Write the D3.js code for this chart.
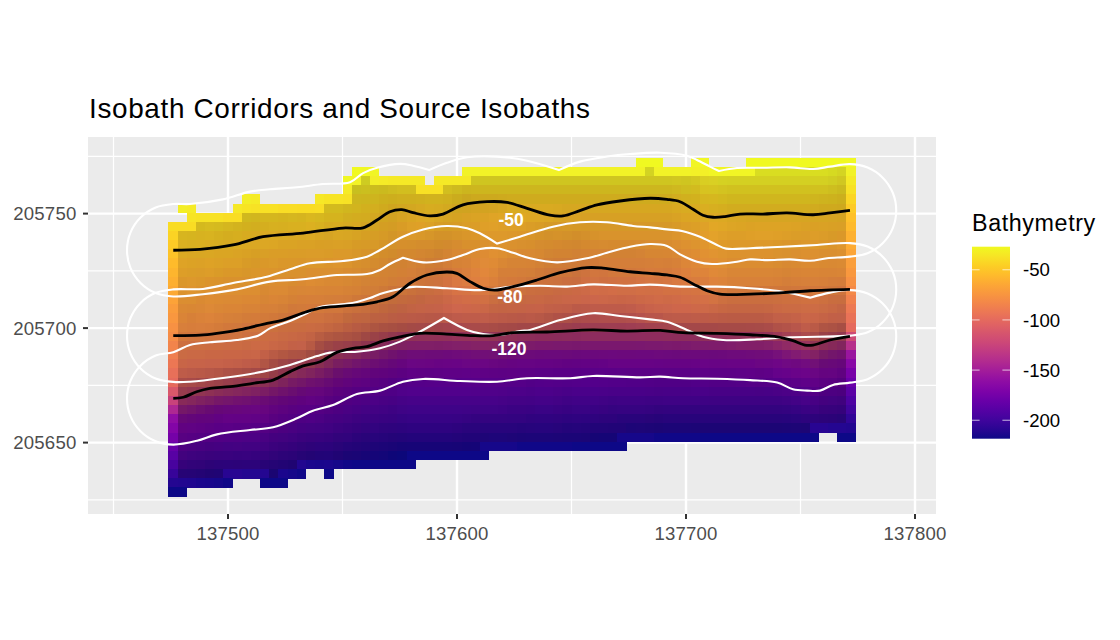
<!DOCTYPE html>
<html><head><meta charset="utf-8">
<script src="https://cdn.jsdelivr.net/npm/d3@7"></script>
<style>html,body{margin:0;background:#fff}svg{display:block}text{font-family:"Liberation Sans",Arial,sans-serif}</style>
</head><body><svg id="c" width="1120" height="640"></svg>
<script>
// Map coordinates are stored relative to these bases (metres).
const eastBase=137000, northBase=205000;

// Source isobaths
const isobath50=[[476.1,734.0],[487.8,734.4],[502.2,736.3],[515.3,739.9],[532.8,741.5],[550.2,743.7],[559.0,743.8],[565.1,747.2],[570.7,750.8],[575.9,751.7],[580.8,750.4],[588.2,749.0],[593.9,749.8],[602.6,753.8],[613.1,755.2],[621.8,754.9],[630.6,752.3],[640.6,749.3],[646.3,749.0],[653.7,751.3],[661.1,753.8],[671.2,755.5],[684.3,756.7],[691.7,756.2],[697.4,755.2],[703.1,751.9],[707.4,749.3],[711.8,748.4],[717.0,748.7],[723.6,749.8],[733.6,749.8],[744.1,750.3],[755.5,749.5],[762.9,750.3],[771.6,751.4]];
const isobath80=[[476.1,696.7],[487.8,696.9],[495.1,697.7],[506.6,699.6],[517.0,702.1],[524.0,703.5],[534.5,707.2],[541.5,708.9],[556.3,710.1],[565.1,711.5],[572.1,713.7],[579.5,719.6],[586.8,723.2],[595.5,724.5],[599.9,723.9],[605.7,720.3],[611.4,717.4],[616.6,716.6],[624.5,718.1],[634.9,721.0],[645.0,724.2],[656.8,726.4],[663.8,726.2],[675.6,724.6],[684.3,723.9],[691.7,723.2],[697.4,722.2],[703.1,719.3],[709.2,716.3],[714.9,714.8],[728.0,714.8],[742.4,715.5],[754.2,716.3],[771.6,716.9]];
const isobath120=[[476.1,669.3],[480.5,669.8],[486.3,672.2],[492.1,673.7],[500.9,674.4],[510.9,675.9],[519.7,677.3],[527.1,681.0],[532.8,683.5],[540.2,685.3],[547.5,689.4],[554.6,691.2],[560.6,691.9],[567.7,694.4],[575.1,696.2],[583.8,697.7],[595.5,697.4],[607.0,696.7],[615.7,696.7],[624.5,698.0],[639.3,698.3],[659.4,699.2],[674.2,698.7],[688.7,699.0],[698.7,698.0],[713.5,697.7],[728.0,697.1],[739.8,696.2],[746.7,694.5],[751.9,692.6],[755.5,692.6],[762.9,694.8],[771.6,696.4]];

// Corridor outlines; a repeated vertex keeps a sharp corner through the spline
const corridor50=[[476.1,713.8],[468.4,715.3],[461.8,719.7],[457.4,726.3],[455.9,734],[457.4,741.7],[461.8,748.3],[468.4,752.7],[476.1,754.2],[483.4,754.2],[497.8,756.2],[509.6,759.6],[518.3,760.6],[530.1,761.5],[541.5,762.9],[553.3,763.7],[559.0,767.7],[565.1,770.0],[575.1,771.7],[580.8,770.9],[587.8,769.0],[587.8,769.0],[595.6,772.2],[604.4,774.6],[617.5,774.9],[630.6,773.1],[644.5,769.0],[644.5,769.0],[653.7,772.7],[665.5,774.9],[675.6,776.0],[688.7,776.6],[700.4,775.3],[704.8,773.4],[710.5,770.5],[714.4,768.6],[714.4,768.6],[722.3,769.9],[733.6,770.0],[745.4,770.2],[755.5,769.5],[762.9,770.5],[771.6,771.6],[779.3,770.1],[785.9,765.7],[790.3,759.1],[791.8,751.4],[790.3,743.7],[785.9,737.1],[779.3,732.7],[771.6,731.2],[761.6,730.5],[754.2,729.4],[745.4,730.0],[735.4,729.7],[728.0,730.0],[722.3,729.0],[711.4,728.0],[704.8,729.0],[697.4,732.2],[691.7,735.9],[684.3,736.7],[675.6,735.5],[665.5,732.9],[656.8,730.5],[643.7,728.7],[631.9,730.5],[624.5,732.9],[617.5,734.9],[610.0,734.5],[602.6,731.9],[595.6,729.7],[585.2,728.7],[576.4,730.7],[576.4,730.7],[570.7,728.0],[566.4,725.4],[560.7,723.6],[547.6,723.2],[532.8,721.3],[518.3,720.3],[503.9,716.9],[489.1,714.8]];
const corridor80=[[476.1,716.9],[468.4,715.4],[461.8,711],[457.4,704.4],[455.9,696.7],[457.4,689],[461.8,682.4],[468.4,678],[476.1,676.5],[483.4,676.6],[497.8,678.2],[515.3,681.0],[527.1,683.9],[538.9,687.8],[544.5,689.3],[556.3,689.7],[566.4,691.2],[575.1,694.1],[583.8,698.4],[594.3,704.4],[594.3,704.4],[604.4,699.2],[611.4,697.4],[618.8,697.0],[627.5,698.7],[631.9,699.2],[645.0,703.5],[659.4,706.5],[671.2,705.3],[684.3,703.8],[691.7,702.8],[700.4,699.2],[707.4,696.2],[716.2,694.8],[731.0,695.1],[745.4,696.0],[757.2,696.2],[771.6,696.7],[779.3,698.2],[785.9,702.6],[790.3,709.2],[791.8,716.9],[790.3,724.6],[785.9,731.2],[779.3,735.6],[771.6,737.1],[757.2,736.3],[742.4,735.5],[728.0,734.9],[717.5,734.7],[712.7,736.7],[706.1,739.9],[698.7,742.3],[691.7,743.1],[684.3,744.0],[676.9,744.6],[665.5,746.2],[653.7,746.2],[641.9,744.3],[627.5,739.9],[617.5,736.9],[617.5,736.9],[610.0,741.4],[604.4,743.6],[595.6,744.6],[585.2,743.1],[576.4,739.9],[566.4,734.1],[560.7,731.2],[550.2,729.3],[535.8,728.3],[527.1,725.7],[517.0,722.4],[502.2,719.7],[489.1,717.1]];
const corridor120=[[476.1,689.5],[468.4,688],[461.8,683.6],[457.4,677],[455.9,669.3],[457.4,661.6],[461.8,655],[468.4,650.6],[476.1,649.1],[486.5,650.8],[495.2,653.6],[509.6,655.5],[519.7,656.7],[530.1,660.6],[537.1,663.9],[545.9,666.4],[556.3,671.2],[566.4,672.7],[576.4,676.6],[585.2,677.8],[601.3,676.9],[617.5,676.6],[630.6,678.1],[649.4,678.1],[659.4,679.1],[679.9,678.5],[688.7,678.8],[698.7,678.1],[713.5,677.9],[728.0,677.3],[739.8,676.2],[746.7,673.3],[752.9,672.7],[758.5,672.7],[764.2,675.2],[771.6,676.2],[779.3,677.7],[785.9,682.1],[790.3,688.7],[791.8,696.4],[790.3,704.1],[785.9,710.7],[779.3,715.1],[771.6,716.6],[762.9,715.5],[754.2,713.3],[754.2,713.3],[742.4,715.9],[728.0,717.4],[713.5,718.1],[698.7,718.1],[684.3,719.0],[674.2,718.5],[659.4,719.1],[648.0,718.1],[636.3,718.5],[624.5,718.1],[610.0,716.6],[595.6,717.4],[580.8,718.0],[575.1,717.1],[566.4,714.9],[562.0,713.1],[556.3,711.4],[551.1,710.5],[540.2,709.2],[532.8,705.7],[527.1,703.1],[518.3,699.9],[513.1,696.7],[503.9,694.8],[492.1,693.8],[483.4,692.6]];

// First occupied grid row in each column of the bathymetry raster
const topRow=[7,5,5,6,6,6,6,5,4,4,5,5,5,5,5,5,4,4,4,2,1,1,1,2,2,2,2,2,3,2,2,2,1,1,1,1,1,1,1,1,1,1,1,1,1,1,1,1,1,1,1,0,0,0,1,1,1,0,0,1,1,1,1,0,0,0,0,0,0,0,0,0,0,0,0];

// Depth (m) per raster column, north to south from topRow; null is a gap in the survey
const depthColumns=[
[-40,-44,-48,-51,-55,-58,-61,-64,-67,-71,-74,-77,-80,-84,-88,-92,-96,-100,-111,-125,-143,-161,-168,-175,-182,-189,-196,-204,-211,-218],
[-32,null,-40,-44,-48,-51,-55,-58,-62,-65,-68,-71,-74,-77,-80,-84,-88,-92,-96,-102,-114,-129,-147,-163,-170,-176,-183,-190,-197,-205,-212,-218],
[-33,-36,-40,-44,-48,-52,-55,-58,-62,-65,-68,-71,-75,-78,-81,-85,-89,-93,-97,-104,-117,-133,-151,-165,-172,-178,-185,-192,-199,-206,-213],
[-37,-41,-45,-48,-52,-56,-59,-62,-65,-69,-72,-75,-78,-81,-85,-89,-93,-97,-105,-120,-137,-155,-167,-173,-179,-186,-193,-200,-207,-214],
[-37,-41,-45,-49,-52,-56,-59,-63,-66,-69,-72,-75,-78,-82,-86,-90,-94,-98,-107,-123,-141,-159,-168,-175,-181,-188,-195,-202,-209,-215],
[-38,-41,-45,-49,-53,-56,-59,-63,-66,-69,-72,-75,-78,-82,-86,-90,-94,-98,-109,-127,-146,-163,-170,-177,-182,-189,-196,-203,-210,-216],
[-39,-42,-46,-50,-53,-57,-60,-64,-67,-70,-73,-76,-79,-83,-87,-91,-95,-99,-112,-130,-149,-164,-170,-177,-183,-190,-196,-203,-210,-217],
[-35,-39,-43,-47,-50,-54,-57,-60,-64,-67,-70,-73,-76,-80,-83,-87,-91,-95,-100,-115,-133,-152,-164,-171,-178,-184,-190,-197,-204,-210],
[-32,-36,-40,-44,-48,-51,-54,-58,-61,-65,-68,-71,-74,-77,-81,-84,-88,-92,-96,-101,-118,-136,-154,-165,-171,-178,-185,-191,-197,-204,-211],
[-33,-37,-41,-45,-49,-52,-55,-59,-62,-65,-68,-71,-74,-78,-81,-85,-89,-92,-96,-103,-121,-139,-157,-165,-172,-179,-185,-191,-198,-204,-211],
[-38,-42,-46,-50,-53,-56,-60,-63,-66,-69,-72,-75,-78,-82,-86,-89,-93,-97,-104,-124,-142,-159,-166,-172,-179,-186,-192,-198,-205,-211,-218],
[-38,-42,-46,-50,-53,-57,-60,-63,-67,-70,-73,-76,-79,-83,-87,-90,-94,-101,-110,-130,-147,-162,-169,-175,-181,-188,-194,-200,-207,-213,-218],
[-39,-43,-47,-50,-54,-57,-61,-64,-67,-70,-73,-76,-80,-84,-88,-91,-95,-105,-118,-136,-152,-165,-172,-178,-184,-190,-196,-202,-208,-214,-218],
[-39,-43,-47,-51,-54,-58,-61,-65,-68,-71,-74,-78,-81,-85,-89,-93,-97,-109,-125,-143,-157,-168,-175,-180,-186,-192,-198,-204,-210,-216],
[-40,-44,-47,-51,-55,-58,-62,-65,-69,-72,-75,-78,-82,-86,-90,-94,-98,-113,-130,-148,-161,-170,-177,-183,-188,-194,-200,-206,-212,-217],
[-40,-44,-48,-51,-55,-59,-62,-66,-69,-72,-76,-79,-83,-87,-91,-95,-99,-117,-135,-153,-164,-171,-178,-184,-190,-196,-202,-208,-214],
[-35,-39,-43,-47,-51,-55,-59,-62,-66,-69,-72,-76,-79,-83,-87,-92,-99,-106,-124,-141,-156,-165,-172,-179,-185,-191,-197,-203,-209,-215],
[-36,-40,-44,-48,-52,-56,-59,-63,-66,-70,-73,-76,-80,-84,-88,-93,-104,-117,-131,-147,-160,-168,-175,-181,-187,-192,-198,-204,-209,-214,-218],
[-36,-40,-44,-48,-52,-56,-60,-63,-66,-70,-73,-77,-80,-84,-89,-95,-108,-124,-140,-155,-164,-172,-178,-184,-189,-194,-200,-205,-210,-216],
[-28,-33,-37,-41,-45,-49,-52,-56,-60,-63,-67,-70,-74,-77,-81,-85,-91,-96,-111,-129,-145,-160,-167,-175,-181,-186,-191,-196,-201,-207,-212,-217],
[-27,-30,-34,-39,-42,-46,-50,-53,-57,-60,-64,-67,-71,-74,-78,-82,-87,-93,-98,-114,-133,-150,-163,-170,-178,-183,-188,-193,-198,-203,-208,-213,-218],
[-28,-31,-35,-40,-44,-47,-51,-54,-58,-61,-65,-68,-72,-75,-79,-83,-88,-94,-102,-119,-138,-153,-165,-172,-179,-185,-190,-195,-200,-205,-210,-214,-218],
[-29,-32,-36,-41,-45,-49,-52,-56,-59,-62,-66,-69,-73,-76,-80,-84,-90,-95,-107,-125,-143,-157,-167,-175,-181,-186,-191,-196,-201,-206,-211,-215,-218],
[-33,-37,-42,-46,-50,-54,-57,-60,-64,-67,-71,-74,-77,-81,-86,-91,-97,-111,-130,-148,-160,-169,-177,-182,-187,-192,-197,-202,-207,-212,-216,-218],
[-34,-38,-43,-48,-52,-55,-59,-62,-65,-69,-72,-75,-79,-83,-88,-93,-98,-116,-135,-152,-163,-171,-179,-184,-189,-194,-198,-203,-208,-213,-217,-218],
[-34,-38,-43,-49,-53,-57,-60,-64,-67,-71,-74,-77,-80,-85,-90,-95,-100,-121,-139,-157,-166,-173,-181,-185,-190,-195,-199,-204,-209,-214,-218,-218],
[-34,-38,-43,-49,-53,-57,-60,-64,-68,-72,-75,-78,-81,-86,-91,-96,-102,-122,-140,-158,-166,-173,-181,-185,-190,-195,-199,-204,-209,-214,-218,-218],
[-34,-38,-43,-49,-53,-57,-60,-65,-69,-73,-76,-80,-83,-88,-92,-96,-104,-123,-141,-158,-166,-173,-181,-185,-190,-195,-199,-204,-209,-214,-218],
[-38,-43,-48,-52,-56,-60,-65,-69,-74,-78,-81,-85,-89,-93,-97,-105,-123,-141,-159,-166,-174,-181,-185,-190,-195,-199,-204,-209,-214,-218],
[-34,-38,-43,-48,-52,-56,-61,-65,-70,-75,-79,-83,-86,-90,-94,-98,-107,-124,-142,-159,-167,-174,-181,-185,-190,-195,-199,-204,-209,-214,-218],
[-34,-38,-43,-48,-52,-56,-61,-66,-71,-75,-80,-84,-87,-91,-95,-98,-108,-125,-142,-160,-167,-174,-181,-185,-190,-195,-199,-204,-209,-214,-218],
[-34,-38,-43,-49,-53,-57,-61,-66,-70,-74,-79,-83,-86,-90,-94,-98,-107,-124,-141,-159,-167,-174,-181,-185,-190,-195,-199,-204,-209,-214,-218],
[-30,-34,-39,-45,-50,-54,-57,-61,-65,-70,-74,-78,-81,-85,-89,-93,-97,-105,-123,-140,-158,-166,-174,-181,-185,-190,-195,-199,-205,-210,-215,-218],
[-30,-34,-39,-45,-51,-54,-58,-61,-65,-69,-73,-77,-80,-83,-88,-92,-97,-104,-122,-139,-157,-166,-173,-180,-185,-190,-195,-200,-205,-210,-215,-218],
[-30,-34,-39,-45,-51,-55,-58,-61,-65,-69,-72,-75,-78,-82,-86,-91,-96,-103,-122,-139,-157,-165,-173,-180,-185,-190,-195,-200,-206,-211,-216,-218],
[-30,-34,-39,-45,-51,-55,-58,-61,-65,-68,-71,-74,-77,-80,-85,-90,-96,-102,-121,-138,-156,-165,-173,-180,-185,-190,-195,-200,-206,-211,-216],
[-30,-34,-39,-45,-51,-54,-58,-61,-65,-68,-71,-75,-78,-81,-86,-91,-96,-103,-123,-140,-157,-166,-174,-180,-185,-190,-195,-200,-206,-211,-216],
[-30,-34,-39,-45,-50,-54,-58,-61,-65,-68,-72,-75,-79,-82,-87,-91,-96,-104,-124,-142,-159,-167,-174,-181,-186,-191,-196,-201,-206,-211,-216],
[-30,-34,-39,-45,-50,-53,-57,-61,-65,-69,-72,-76,-79,-83,-88,-92,-97,-105,-126,-144,-160,-168,-175,-181,-186,-191,-196,-201,-207,-212,-217],
[-30,-34,-39,-45,-50,-53,-57,-61,-65,-69,-73,-76,-80,-84,-88,-93,-97,-105,-127,-145,-160,-168,-175,-182,-187,-192,-197,-202,-207,-212,-217],
[-30,-34,-39,-45,-50,-53,-57,-61,-66,-69,-73,-77,-81,-85,-89,-93,-97,-106,-128,-146,-161,-169,-176,-182,-187,-192,-197,-202,-207,-212,-217],
[-30,-34,-39,-45,-50,-53,-57,-62,-66,-70,-74,-78,-82,-86,-90,-94,-98,-108,-128,-146,-161,-169,-176,-182,-187,-192,-197,-202,-207,-212,-217],
[-30,-34,-39,-45,-50,-53,-58,-62,-67,-71,-75,-79,-83,-87,-91,-95,-100,-110,-129,-147,-161,-169,-177,-182,-187,-192,-197,-202,-207,-212,-217],
[-30,-34,-39,-45,-50,-54,-58,-62,-67,-71,-76,-80,-84,-88,-92,-95,-101,-112,-129,-147,-161,-170,-177,-183,-188,-193,-198,-203,-208,-213,-217],
[-30,-34,-39,-45,-50,-54,-58,-63,-68,-72,-76,-81,-85,-89,-92,-96,-103,-114,-130,-148,-162,-170,-178,-183,-188,-193,-198,-203,-208,-213,-218],
[-30,-34,-39,-45,-50,-54,-59,-63,-68,-72,-77,-82,-86,-90,-93,-97,-104,-115,-130,-148,-162,-170,-178,-183,-188,-193,-198,-203,-208,-213,-218],
[-30,-34,-39,-45,-50,-54,-59,-63,-68,-72,-77,-81,-85,-89,-93,-97,-104,-115,-130,-148,-162,-170,-178,-183,-188,-193,-198,-203,-209,-214,-218],
[-30,-34,-39,-45,-50,-54,-59,-63,-67,-72,-76,-81,-85,-89,-92,-97,-104,-115,-130,-148,-162,-170,-177,-183,-188,-193,-198,-204,-209,-215,-218],
[-30,-34,-39,-45,-50,-54,-59,-63,-67,-72,-76,-80,-85,-89,-92,-97,-103,-115,-130,-148,-162,-169,-177,-183,-188,-194,-199,-204,-210,-215,-218],
[-30,-34,-39,-45,-50,-54,-59,-63,-67,-72,-76,-80,-84,-88,-92,-97,-103,-115,-130,-148,-162,-169,-176,-183,-188,-194,-199,-205,-210,-216,-218],
[-30,-34,-39,-45,-50,-54,-59,-63,-67,-72,-76,-80,-84,-88,-92,-97,-103,-115,-130,-148,-162,-169,-176,-183,-188,-194,-199,-205,-211,-216],
[-27,-30,-34,-39,-45,-50,-54,-59,-63,-67,-72,-76,-80,-84,-87,-91,-96,-102,-113,-130,-148,-162,-169,-176,-183,-188,-194,-199,-205,-211,-216],
[-27,-30,-34,-39,-45,-50,-54,-59,-63,-67,-71,-76,-80,-83,-87,-91,-95,-100,-111,-129,-147,-162,-169,-176,-183,-188,-194,-199,-205,-211,-216],
[-27,-30,-34,-39,-45,-50,-54,-59,-63,-67,-71,-75,-79,-83,-87,-90,-94,-99,-110,-129,-147,-161,-169,-176,-183,-189,-194,-200,-206,-212,-217],
[-30,-34,-39,-45,-50,-54,-59,-63,-67,-71,-75,-79,-83,-86,-90,-94,-98,-108,-128,-146,-161,-169,-176,-183,-189,-194,-200,-206,-212,-217],
[-30,-34,-39,-45,-50,-54,-59,-63,-67,-71,-75,-79,-82,-86,-90,-93,-97,-106,-128,-146,-161,-169,-176,-183,-189,-194,-200,-206,-212,-217],
[-30,-34,-38,-44,-49,-53,-58,-62,-66,-70,-74,-78,-81,-85,-89,-93,-97,-105,-128,-146,-161,-169,-176,-183,-189,-194,-200,-206,-212,-217],
[-29,-31,-35,-39,-44,-49,-53,-57,-61,-65,-69,-73,-76,-80,-84,-88,-92,-96,-105,-128,-145,-161,-169,-176,-183,-189,-194,-200,-206,-212,-217],
[-28,-31,-34,-38,-43,-48,-52,-57,-60,-64,-68,-71,-75,-79,-83,-87,-91,-96,-104,-127,-145,-161,-168,-175,-182,-188,-194,-200,-206,-212,-218],
[-29,-33,-37,-42,-47,-52,-55,-59,-62,-66,-70,-73,-77,-81,-85,-90,-95,-104,-127,-144,-161,-168,-175,-182,-188,-194,-200,-206,-212,-218],
[-29,-32,-36,-41,-46,-51,-54,-58,-61,-65,-68,-72,-75,-79,-84,-89,-95,-103,-127,-144,-161,-168,-175,-182,-188,-194,-200,-206,-212,-218],
[-29,-32,-36,-41,-46,-51,-54,-58,-61,-65,-68,-72,-75,-79,-84,-89,-95,-103,-126,-143,-160,-168,-175,-182,-188,-194,-200,-206,-212,-218],
[-29,-32,-36,-41,-46,-51,-54,-58,-61,-65,-68,-72,-75,-79,-84,-89,-95,-103,-125,-142,-160,-167,-175,-182,-188,-194,-200,-206,-212,-218],
[-27,-29,-32,-36,-41,-46,-51,-55,-58,-61,-65,-68,-72,-75,-79,-84,-89,-95,-103,-124,-141,-159,-167,-174,-181,-188,-194,-200,-206,-212,-218],
[-27,-29,-32,-36,-41,-46,-51,-55,-58,-61,-65,-68,-72,-75,-79,-84,-89,-95,-103,-123,-141,-158,-166,-174,-181,-188,-194,-200,-206,-212,-218],
[-27,-29,-32,-36,-41,-46,-51,-55,-58,-61,-65,-68,-72,-75,-79,-84,-89,-95,-103,-123,-140,-158,-166,-174,-181,-188,-194,-200,-206,-212,-218],
[-27,-29,-32,-36,-41,-46,-51,-55,-58,-61,-65,-68,-72,-75,-79,-84,-89,-94,-101,-119,-137,-155,-165,-172,-180,-187,-194,-200,-206,-212,-218],
[-27,-29,-32,-36,-41,-46,-51,-55,-58,-62,-65,-69,-72,-76,-79,-84,-88,-93,-100,-114,-133,-151,-163,-170,-178,-186,-193,-200,-206,-212,-218],
[-27,-29,-32,-36,-41,-46,-51,-55,-58,-62,-66,-69,-73,-76,-80,-84,-88,-93,-99,-110,-129,-146,-162,-169,-176,-185,-192,-199,-205,-211,-218],
[-27,-29,-32,-36,-41,-46,-51,-55,-59,-62,-66,-69,-73,-76,-80,-84,-88,-92,-97,-106,-124,-142,-160,-167,-175,-183,-190,-197,-204,-211,-218],
[-27,-29,-32,-36,-41,-46,-51,-55,-59,-62,-66,-69,-73,-76,-80,-84,-88,-92,-96,-103,-121,-138,-156,-166,-173,-180,-188,-195,-203,-210,-218],
[-27,-29,-32,-36,-41,-47,-51,-55,-59,-62,-66,-69,-73,-76,-80,-84,-88,-92,-97,-108,-126,-144,-160,-167,-174,-182,-189,-196,-203,-210],
[-27,-29,-32,-36,-41,-47,-52,-55,-59,-63,-66,-70,-73,-77,-80,-85,-89,-93,-98,-112,-130,-149,-162,-168,-175,-183,-190,-197,-204,-211],
[-27,-30,-33,-37,-42,-47,-52,-56,-60,-63,-66,-70,-73,-77,-81,-85,-90,-94,-99,-116,-134,-152,-164,-170,-177,-184,-191,-198,-205,-211,-218],
[-27,-30,-34,-38,-43,-48,-53,-56,-60,-63,-66,-70,-73,-77,-81,-86,-91,-95,-100,-121,-138,-156,-165,-173,-180,-187,-193,-199,-206,-212,-218]
];

const xTicks=[137500,137600,137700,137800], yTicks=[205650,205700,205750];
const xMinor=[137450,137550,137650,137750], yMinor=[205625,205675,205725,205775];
const legendTicks=[-50,-100,-150,-200];
const isobathLabels=[["-50",623.6,747.2],["-80",623.1,713.6],["-120",622.7,690.9]];
const cellSize=4, firstEast=137476, firstNorth=205772.4;
const depthDomain=[-218.4,-27];

const x=d3.scaleLinear().domain([137500,137800]).range([228,915]);
const y=d3.scaleLinear().domain([205650,205750]).range([442.6,213.6]);
const fillScale=d3.scaleSequential(d3.interpolatePlasma).domain(depthDomain);
const legendY=d3.scaleLinear().domain(depthDomain).range([438.7,246.7]);
const panel={l:88,r:936,t:137,b:514};
const svg=d3.select("#c");

svg.append("rect").attr("x",panel.l).attr("y",panel.t).attr("width",panel.r-panel.l).attr("height",panel.b-panel.t).attr("fill","#ebebeb");
const grid=svg.append("g").attr("stroke","#fff");
const vLine=(v,w)=>grid.append("line").attr("x1",x(v)).attr("x2",x(v)).attr("y1",panel.t).attr("y2",panel.b).attr("stroke-width",w);
const hLine=(v,w)=>grid.append("line").attr("y1",y(v)).attr("y2",y(v)).attr("x1",panel.l).attr("x2",panel.r).attr("stroke-width",w);
xMinor.forEach(v=>vLine(v,1.2)); yMinor.forEach(v=>hLine(v,1.2));
xTicks.forEach(v=>vLine(v,2.4)); yTicks.forEach(v=>hLine(v,2.4));

// Raster: plasma on depth, darkened by a hillshade derived from the grid itself.
// Horn gradients, sun in the north-west at 45 degrees; cells without a full neighbourhood stay unshaded.
const depthAt=(c,r)=>{const col=depthColumns[c];if(!col)return null;const v=col[r-topRow[c]];return v===undefined?null:v;};
function hillshade(c,r){
  const n=[];
  for(let j=-1;j<=1;j++)for(let i=-1;i<=1;i++){const v=depthAt(c+i,r+j);if(v===null)return null;n.push(v);}
  const dx=((n[2]+2*n[5]+n[8])-(n[0]+2*n[3]+n[6]))/(8*cellSize);
  const dy=((n[0]+2*n[1]+n[2])-(n[6]+2*n[7]+n[8]))/(8*cellSize);
  return (.5*dx-.5*dy+.7071)/Math.hypot(1,dx,dy);
}
const cells=[];
depthColumns.forEach((col,c)=>col.forEach((v,i)=>{
  if(v===null)return;
  const r=topRow[c]+i,s=hillshade(c,r);
  const k=s===null?1:1-.18*Math.pow(1-s,1.5);
  const q=d3.rgb(fillScale(v));
  cells.push({c,r,fill:d3.rgb(q.r*k,q.g*k,q.b*k).formatHex()});
}));
const cw=x(firstEast+cellSize)-x(firstEast), ch=y(firstNorth-cellSize)-y(firstNorth);
svg.append("g").attr("shape-rendering","crispEdges").selectAll("rect").data(cells).join("rect")
  .attr("x",d=>x(firstEast+cellSize*d.c)-cw/2)
  .attr("y",d=>y(firstNorth-cellSize*d.r)-ch/2)
  .attr("width",cw+.3).attr("height",ch+.3).attr("fill",d=>d.fill);

const line=d3.line().x(d=>x(eastBase+d[0])).y(d=>y(northBase+d[1]));
[corridor50,corridor80,corridor120].forEach(p=>svg.append("path").attr("d",line.curve(d3.curveCatmullRomClosed.alpha(.5))(p)).attr("fill","none").attr("stroke","#fff").attr("stroke-width",2.1));
[isobath50,isobath80,isobath120].forEach(p=>svg.append("path").attr("d",line.curve(d3.curveCatmullRom.alpha(.5))(p)).attr("fill","none").attr("stroke","#000").attr("stroke-width",2.8));
svg.selectAll("text.iso").data(isobathLabels).join("text").attr("class","iso")
  .attr("x",d=>x(eastBase+d[1])).attr("y",d=>y(northBase+d[2])).attr("dy","0.36em")
  .attr("text-anchor","middle").attr("fill","#fff").attr("font-weight",700).attr("font-size",17.5).text(d=>d[0]);

// Axes
xTicks.forEach(v=>{
  svg.append("line").attr("x1",x(v)).attr("x2",x(v)).attr("y1",panel.b).attr("y2",panel.b+5).attr("stroke","#333").attr("stroke-width",2);
  svg.append("text").attr("x",x(v)).attr("y",540).attr("text-anchor","middle").attr("fill","#4d4d4d").attr("font-size",18.6).attr("letter-spacing",.2).text(v);
});
yTicks.forEach(v=>{
  svg.append("line").attr("x1",panel.l-5).attr("x2",panel.l).attr("y1",y(v)).attr("y2",y(v)).attr("stroke","#333").attr("stroke-width",2);
  svg.append("text").attr("x",76.5).attr("y",y(v)).attr("dy","0.36em").attr("text-anchor","end").attr("fill","#4d4d4d").attr("font-size",18.6).attr("letter-spacing",.2).text(v);
});
svg.append("text").attr("x",89).attr("y",118).attr("font-size",27.9).attr("letter-spacing",.65).attr("fill","#000").text("Isobath Corridors and Source Isobaths");

// Colour bar legend
svg.append("text").attr("x",972).attr("y",231).attr("font-size",23.3).attr("letter-spacing",.6).attr("fill","#000").text("Bathymetry");
const grad=svg.append("defs").append("linearGradient").attr("id","bar").attr("x1",0).attr("x2",0).attr("y1",1).attr("y2",0);
d3.range(0,1.001,.05).forEach(t=>grad.append("stop").attr("offset",t).attr("stop-color",d3.interpolatePlasma(t)));
svg.append("rect").attr("x",972).attr("y",legendY(depthDomain[1])).attr("width",38).attr("height",legendY(depthDomain[0])-legendY(depthDomain[1])).attr("fill","url(#bar)");
legendTicks.forEach(v=>{
  [[972,979.6],[1002.4,1010]].forEach(s=>svg.append("line").attr("x1",s[0]).attr("x2",s[1]).attr("y1",legendY(v)).attr("y2",legendY(v)).attr("stroke","#fff").attr("stroke-opacity",.7).attr("stroke-width",1));
  svg.append("text").attr("x",1023).attr("y",legendY(v)).attr("dy","0.36em").attr("fill","#000").attr("font-size",18.6).text(v);
});
</script></body></html>
